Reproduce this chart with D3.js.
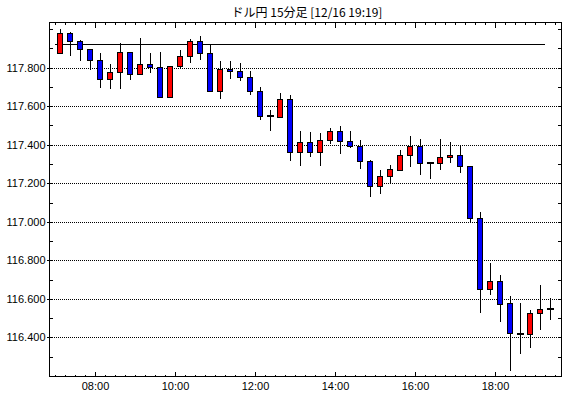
<!DOCTYPE html>
<html>
<head>
<meta charset="utf-8">
<script src="https://cdn.jsdelivr.net/npm/d3@7"></script>
<style>
body{margin:0;background:#fff;}
svg{display:block;font-family:"Liberation Sans",Arial,sans-serif;}
</style>
</head>
<body>
<div class="viz"></div>
<script>
const title="ドル円 15分足 [12/16 19:19]";

const times=["07:00","07:15","07:30","07:45","08:00","08:15","08:30","08:45","09:00","09:15",
	"09:30","09:45","10:00","10:15","10:30","10:45","11:00","11:15","11:30","11:45",
	"12:00","12:15","12:30","12:45","13:00","13:15","13:30","13:45","14:00","14:15",
	"14:30","14:45","15:00","15:15","15:30","15:45","16:00","16:15","16:30","16:45",
	"17:00","17:15","17:30","17:45","18:00","18:15","18:30","18:45","19:00","19:15"];

const opens=[117.875,117.979,117.940,117.896,117.838,117.740,117.776,117.880,117.766,117.819,
	117.802,117.650,117.807,117.860,117.937,117.875,117.677,117.792,117.781,117.750,
	117.677,117.551,117.546,117.636,117.362,117.413,117.362,117.423,117.470,117.418,
	117.392,117.314,117.184,117.239,117.270,117.345,117.392,117.304,117.304,117.335,
	117.345,117.288,117.018,116.649,116.691,116.576,116.421,116.416,116.525,116.546];

const highs=[118.001,117.984,117.946,117.899,117.876,117.819,117.927,117.882,117.956,117.876,
	117.883,117.810,117.892,117.949,117.966,117.921,117.835,117.835,117.824,117.783,
	117.698,117.580,117.669,117.658,117.471,117.466,117.461,117.485,117.497,117.471,
	117.423,117.321,117.269,117.293,117.373,117.446,117.430,117.312,117.430,117.414,
	117.395,117.290,117.051,116.786,116.722,116.613,116.577,116.542,116.672,116.603];

const lows=[117.872,117.862,117.836,117.790,117.696,117.689,117.691,117.736,117.764,117.774,
	117.645,117.648,117.797,117.823,117.842,117.675,117.639,117.743,117.733,117.660,
	117.530,117.473,117.544,117.317,117.291,117.338,117.291,117.402,117.353,117.385,
	117.276,117.127,117.146,117.200,117.265,117.286,117.244,117.224,117.270,117.307,
	117.255,116.991,116.528,116.621,116.481,116.227,116.315,116.346,116.440,116.492];

const closes=[117.979,117.940,117.896,117.838,117.740,117.776,117.880,117.766,117.819,117.802,
	117.646,117.807,117.861,117.937,117.875,117.677,117.792,117.781,117.750,117.677,
	117.551,117.549,117.636,117.362,117.413,117.362,117.423,117.470,117.418,117.392,
	117.314,117.184,117.239,117.272,117.345,117.392,117.304,117.305,117.335,117.345,
	117.288,117.018,116.649,116.691,116.572,116.421,116.419,116.525,116.546,116.548];

const refLevel=117.921;
const yMajor=[116.4,116.6,116.8,117.0,117.2,117.4,117.6,117.8];
const xLabels=["08:00","10:00","12:00","14:00","16:00","18:00"];

const width=570, height=398;
const plotLeft=49.5, plotRight=561.5, plotTop=22.5, plotBottom=376.5;

const parse=d3.timeParse("%H:%M");

const data=times.map((t,i)=>({
	t:parse(t),
	open:opens[i],high:highs[i],low:lows[i],close:closes[i]
}));

const svg=d3.select('.viz').append('svg')
	.attr('width',width)
	.attr('height',height)

// x: 2 hours = 80px, 08:00 sits at x=95
let x=d3.scaleTime()
	.domain([parse("08:00"),parse("18:00")])
	.range([95,495])
x.domain([x.invert(plotLeft),x.invert(plotRight)]).range([plotLeft,plotRight])

const y=d3.scaleLinear()
	.domain([116.1965,118.0347])
	.range([plotBottom,plotTop])

const half=7.5*60*1000; // candle drawn in the middle of its 15 minutes
const cx=d=>Math.round(x(new Date(d.t.getTime()+half)))

// grid
svg.append('g')
	.selectAll('line')
	.data(yMajor)
	.join('line')
	.attr('x1',plotLeft)
	.attr('x2',plotRight)
	.attr('y1',d=>Math.round(y(d))+0.5)
	.attr('y2',d=>Math.round(y(d))+0.5)
	.attr('stroke','black')
	.attr('stroke-dasharray','1,1')
	.attr('shape-rendering','crispEdges')

// reference line
svg.append('line')
	.attr('x1',x(parse("07:00")))
	.attr('x2',x(parse("19:15")))
	.attr('y1',Math.round(y(refLevel))+0.5)
	.attr('y2',Math.round(y(refLevel))+0.5)
	.attr('stroke','black')
	.attr('shape-rendering','crispEdges')

// axes
const minor=d3.range(116.2,118.05,0.1).map(v=>+v.toFixed(1));
const minorTimes=d3.timeMinute.every(15).range(x.domain()[0],x.domain()[1]);
const majorTimes=xLabels.map(parse);

svg.append('g')
	.attr('transform',`translate(0,${plotBottom})`)
	.call(d3.axisBottom(x).tickValues(minorTimes).tickSize(-2).tickFormat(''))
svg.append('g')
	.attr('transform',`translate(0,${plotBottom})`)
	.call(d3.axisBottom(x).tickValues(majorTimes).tickSize(-5).tickPadding(6)
		.tickFormat(d3.timeFormat("%H:%M")))
svg.append('g')
	.attr('transform',`translate(0,${plotTop})`)
	.call(d3.axisTop(x).tickValues(minorTimes).tickSize(-2).tickFormat(''))
svg.append('g')
	.attr('transform',`translate(0,${plotTop})`)
	.call(d3.axisTop(x).tickValues(majorTimes).tickSize(-5).tickFormat(''))

svg.append('g')
	.attr('transform',`translate(${plotLeft},0)`)
	.call(d3.axisLeft(y).tickValues(minor).tickSize(-3).tickFormat(''))
svg.append('g')
	.attr('transform',`translate(${plotLeft},0)`)
	.call(d3.axisLeft(y).tickValues(yMajor).tickSize(3).tickPadding(1)
		.tickFormat(d3.format('.3f')))
svg.append('g')
	.attr('transform',`translate(${plotRight},0)`)
	.call(d3.axisRight(y).tickValues(minor).tickSize(-4).tickFormat(''))

svg.selectAll('.domain').remove()
svg.selectAll('.tick line').attr('shape-rendering','crispEdges').attr('stroke','black')
svg.selectAll('.tick text').attr('fill','black').attr('font-family','"Liberation Sans",Arial,sans-serif')
	.attr('font-size',11)

// frame
svg.append('rect')
	.attr('x',plotLeft)
	.attr('y',plotTop)
	.attr('width',plotRight-plotLeft)
	.attr('height',plotBottom-plotTop)
	.attr('fill','none')
	.attr('stroke','black')
	.attr('shape-rendering','crispEdges')

// candles
const candles=svg.append('g')
	.selectAll('g')
	.data(data)
	.join('g')

candles.append('line')
	.attr('x1',d=>cx(d)+0.5)
	.attr('x2',d=>cx(d)+0.5)
	.attr('y1',d=>y(d.high))
	.attr('y2',d=>y(d.low))
	.attr('stroke','black')
	.attr('shape-rendering','crispEdges')

candles.filter(d=>Math.abs(d.close-d.open)>0.003)
	.append('rect')
	.attr('x',d=>cx(d)-2.5)
	.attr('width',5)
	.attr('y',d=>Math.round(y(Math.max(d.open,d.close)))+0.5)
	.attr('height',d=>Math.max(1,Math.round(y(Math.min(d.open,d.close)))-Math.round(y(Math.max(d.open,d.close)))))
	.attr('fill',d=>d.close>d.open?'#ff0000':'#0000ff')
	.attr('stroke','black')
	.attr('shape-rendering','crispEdges')

candles.filter(d=>Math.abs(d.close-d.open)<=0.003)
	.append('rect')
	.attr('x',d=>cx(d)-3)
	.attr('width',7)
	.attr('y',d=>Math.round(y(d.close))-1)
	.attr('height',2)
	.attr('fill','black')

// title
svg.append('text')
	.attr('x',307)
	.attr('y',17)
	.attr('text-anchor','middle')
	.attr('font-family','"Noto Sans CJK JP",sans-serif')
	.attr('font-size',12)
	.text(title)
</script>
</body>
</html>
